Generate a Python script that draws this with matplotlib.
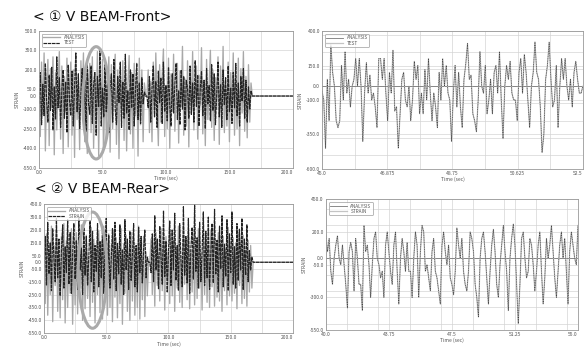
import numpy as np
import matplotlib
matplotlib.use('Agg')
import matplotlib.pyplot as plt
from matplotlib.patches import Ellipse
from matplotlib.ticker import MultipleLocator

plt.rcParams['font.family'] = ['Noto Sans CJK KR', 'DejaVu Sans']

# ---- panel titles / legend labels
titles = ['< \u2460 V BEAM-Front>', '< \u2461 V BEAM-Rear>']
legend_top = ['ANALYSIS', 'TEST']
legend_bot = ['ANALYSIS', 'STRAIN']

# ---- left panels: 1 s samples, two recorded blocks (0-83 s, 86-167 s)
front_ana_1 = [120, -310, 260, -150, 330, -420, 60, 280, -380, 210, -90, 300, -450, 180, -260, 90, 340, -330, 230, -440,
               150, -120, 290, -390, 40, 260, -300, 200, -470, 310, -180, 120, -410, 270, -60, 330, -350, 190, -440, 80,
               250, -280, 300, -400, 140, -200, 340, -460, 220, -110, 280, -380, 170, -320, 60, 300, -430, 240, -250, 110,
               320, -370, 200, -480, 150, -90, 270, -340, 230, -420, 80, 310, -290, 180, -400, 250, -150, 120, -460, 290,
               -220, 200, -350, 100]
front_test_1 = [-60, 180, -220, 90, -150, 250, -40, -200, 160, -110, 220, -260, 70, -180, 300, -90, 140, -240, 50, 200,
                -170, 110, -280, 240, -30, -150, 190, -230, 80, 330, -120, 170, -250, 20, 210, -190, 120, -270, 260, -60,
                -140, 230, -210, 90, 180, -300, 150, -80, 350, -230, 60, -160, 240, -120, 190, -280, 30, 170, -200, 280,
                -100, -220, 150, -50, 260, -240, 110, -170, 320, -130, 40, -260, 200, -90, 170, -230, 60, 250, -180, 100,
                -210, 140, -60, 30]
front_ana_2 = [200, -280, 110, -350, 260, -150, 330, -60, -380, 240, -200, 150, 360, -310, 80, -250, 290, -400, 170, -120,
               320, -270, 40, 250, -360, 190, -80, 380, -300, 130, -230, 270, -390, 210, -140, 340, -260, 60, 230, -330,
               160, -70, 370, -290, 120, -380, 280, -180, 90, 350, -240, 200, -340, 140, -100, 300, -370, 230, -160, 380,
               -280, 70, -230, 260, -350, 180, -90, 330, -300, 110, -250, 290, -380, 210, -130, 340, -270, 150, -320, 240,
               -200, 100]
front_test_2 = [-90, 150, -200, 60, 230, -160, 110, -240, 190, -50, 140, -210, 260, -120, 80, -190, 220, -70, -230, 170,
                -130, 90, 250, -180, 40, -220, 200, -100, 150, -260, 120, 60, -170, 230, -140, 100, -200, 270, -80, 160,
                -230, 50, 190, -150, 120, -250, 210, -60, 80, -190, 240, -110, 170, -220, 30, 260, -160, 90, -240, 200,
                -70, 140, -180, 230, -120, 60, -210, 180, -90, 250, -150, 100, -230, 150, -40, 210, -170, 120, -200, 70,
                -100, 40]

rear_ana_1 = [150, -320, 220, -410, 90, -250, 280, -460, 130, -180, 250, -380, 60, -430, 200, -290, 300, -470, 170, -350,
              110, -240, 260, -480, 80, -330, 230, -400, 150, -200, 290, -450, 120, -360, 210, -280, 50, -420, 270, -310,
              180, -470, 100, -250, 240, -390, 160, -440, 280, -300, 70, -410, 220, -350, 130, -460, 250, -270, 190, -430,
              90, -320, 260, -480, 140, -240, 210, -380, 60, -450, 230, -300, 170, -410, 110, -350, 280, -440, 150, -290,
              200, -420, 80, -260]
rear_strain_1 = [-40, 200, -180, 310, -90, 150, -220, 260, 30, -150, 340, -120, 180, -260, 90, 290, -200, 120, -80, 330,
                 -170, 230, -240, 60, 300, -130, 170, -210, 350, -60, 110, -250, 270, -100, 200, -180, 40, 320, -150, 240,
                 -230, 130, -70, 300, -190, 160, -120, 280, -240, 80, 340, -160, 210, -200, 20, 260, -130, 310, -220, 150,
                 -90, 290, -170, 100, -250, 330, -60, 180, -210, 240, -140, 50, 300, -190, 130, -230, 270, -80, 200, -160,
                 90, 250, -120, 40]
rear_ana_2 = [180, -250, 100, -340, 230, -180, 60, -300, 260, -220, 140, -370, 200, -130, 90, -320, 250, -260, 170, -380,
              120, -200, 280, -310, 50, -350, 210, -170, 150, -290, 240, -360, 90, -230, 190, -330, 130, -280, 260, -200,
              70, -370, 220, -250, 160, -310, 110, -350, 250, -190, 180, -340, 80, -270, 230, -300, 140, -380, 200, -220,
              100, -330, 270, -260, 60, -300, 190, -240, 150, -360, 230, -180, 120, -320, 210, -280, 90, -340, 170, -230,
              130, -200]
rear_strain_2 = [-80, 220, -150, 360, -60, 180, -210, 280, 40, -170, 400, -110, 160, -230, 90, 320, -180, 250, -60, 380,
                 -140, 130, -220, 300, 20, -190, 430, -100, 200, -160, 340, -240, 110, 270, -130, 450, -70, 190, -200, 310,
                 -150, 80, 390, -180, 240, -120, 350, -210, 60, 300, -160, 410, -90, 170, -230, 280, -50, 360, -190, 140,
                 -110, 330, -220, 220, -80, 390, -170, 120, -200, 300, -140, 260, -60, 340, -210, 180, -100, 290, -150, 90,
                 -60, 40]

# ---- right panels: zoomed windows (front 45-52.5 s, rear 40-55 s)
front_zoom = [-35, -100, -450, 50, -250, 300, 100, 0, -250, -300, -250, 150, -100, 250, -50, 50, -150, 0, 50, 200,
              0, 200, 0, -400, -50, 170, -50, 80, -100, -50, -150, -300, 200, 200, 50, 200, -50, -250, 100, -50,
              260, -180, -150, -450, -200, 50, 100, -100, -150, 0, -250, -100, 180, 50, 150, -200, -50, -200, 120, -100,
              200, -50, -250, -50, -150, -300, 100, -100, 200, 0, 150, -50, -100, -400, -50, 150, -150, 100, -150, -300,
              50, 160, 310, 50, 80, -200, -250, -330, -100, 250, 0, -50, 150, -200, -100, 50, -200, 100, 150, -50,
              250, -100, -380, 0, 150, 50, 180, -50, -100, -100, -250, 100, 200, -50, 230, 100, -100, -300, 0, 100,
              320, 100, 50, -150, -480, -350, 50, 150, 320, 50, -150, -100, 150, -300, 0, 200, 50, 200, 0, -100,
              50, -150, 100, 180, 50, -50, -50, 0]
rear_zoom = [180, 50, 150, -100, -200, 0, 100, 170, 0, -50, 100, -50, -200, -380, 50, 120, 50, -250, 150, 0,
             -200, -200, -400, 250, 50, 100, -50, -300, -50, 150, 200, 0, -50, -150, -100, -300, 100, 200, 50, -100,
             -200, 100, 200, -100, -350, 0, 150, 50, -100, 120, -100, -100, -300, 0, 200, 100, -300, 50, 250, 200,
             -100, -50, -150, -250, 50, 150, -100, -150, -250, -350, 100, 200, 50, -50, 100, -150, -200, -280, -100, 230,
             100, 0, 150, -100, -200, -250, -100, 200, 150, 50, -200, -300, -450, 0, 150, 200, 50, -150, -350, -100,
             100, 220, 50, -200, -300, -50, 100, 250, 50, -100, -400, 0, 150, 260, 100, -200, -500, -200, 150, 200,
             0, -150, -100, 150, 100, -50, -250, -100, 100, 200, -100, -350, -150, 150, 0, 100, 250, 50, -150, -300,
             -100, 100, 200, 0, 150, -100, -350, 50, 200, 100, 0, -50, 250]

# ---- axis ticks
tl_yticks = [-550, -400, -250, -100, 0, 50, 200, 350, 500]
tr_yticks = [-600, -350, -100, 0, 150, 400]
tr_xticks = [45.0, 46.875, 48.75, 50.625, 52.5]
tr_xlabels = ['45.0', '46.875', '48.75', '50.625', '52.5']
bl_yticks = [-550, -450, -350, -250, -150, -50, 0, 50, 150, 250, 350, 450]
br_yticks = [-550, -300, -50, 0, 200, 450]
br_xticks = [40.0, 43.75, 47.5, 51.25, 55.0]
br_xlabels = ['40.0', '43.75', '47.5', '51.25', '55.0']
left_xticks = [0, 50, 100, 150, 200]

GRID = '#d4d4d4'
TXT = '#555555'


def _blocks(p1, p2):
    t = np.concatenate([np.arange(len(p1)), [84, 85], 86 + np.arange(len(p2)), [168, 200]])
    y = np.concatenate([p1, [0, 0], p2, [0, 0]])
    return t, y


def _style(ax, yticks, ylim, xticks, xlabels, xlim, xminor, yminor=None):
    ax.set_xlim(xlim)
    ax.set_ylim(ylim)
    ax.set_yticks(yticks)
    ax.set_yticklabels(['%.1f' % v for v in yticks])
    ax.set_xticks(xticks)
    ax.set_xticklabels(xlabels)
    ax.xaxis.set_minor_locator(MultipleLocator(xminor))
    if yminor:
        ax.yaxis.set_minor_locator(MultipleLocator(yminor))
    ax.grid(True, which='both', color=GRID, lw=0.5)
    ax.tick_params(which='both', length=0, labelsize=3.6, colors=TXT, pad=1.5)
    for s in ax.spines.values():
        s.set_color('#999999')
        s.set_linewidth(0.6)
    ax.set_xlabel('Time (sec)', fontsize=3.6, color=TXT, labelpad=0.5)
    ax.set_ylabel('STRAIN', fontsize=3.6, color=TXT, labelpad=2)
    ax.set_axisbelow(True)
    # last tick label sits on the right border
    ax.get_xticklabels()[-1].set_ha('right')


def _legend(ax, labels):
    leg = ax.legend(labels, loc='upper left', fontsize=3.4, handlelength=3.5, frameon=True,
                    fancybox=True, borderpad=0.3, labelspacing=0.1, borderaxespad=0.6)
    leg.get_frame().set_edgecolor('#999999')
    leg.get_frame().set_linewidth(0.6)
    for t in leg.get_texts():
        t.set_color(TXT)


fig = plt.figure(figsize=(5.85, 3.49), dpi=100)
fig.patch.set_facecolor('white')

ax1 = fig.add_axes([0.0667, 0.519, 0.434, 0.393])
ax2 = fig.add_axes([0.5504, 0.516, 0.446, 0.395])
ax3 = fig.add_axes([0.0752, 0.045, 0.4256, 0.370])
ax4 = fig.add_axes([0.557, 0.054, 0.431, 0.375])

# top-left
t, y = _blocks(front_ana_1, front_ana_2)
ax1.plot(t, y, color='#a8a8a8', lw=0.95)
t, y = _blocks(front_test_1, front_test_2)
ax1.plot(t, y, color='#222222', lw=0.85, ls=(0, (3, 0.6)))
_style(ax1, tl_yticks, (-550, 500), left_xticks, ['%.1f' % v for v in left_xticks], (0, 200), 25)
_legend(ax1, legend_top)
ax1.add_patch(Ellipse((45, -52), 21, 860, fill=False, ec='#aaaaaa', lw=2.2, zorder=5))

# bottom-left
t, y = _blocks(rear_ana_1, rear_ana_2)
ax3.plot(t, y, color='#a8a8a8', lw=0.95)
t, y = _blocks(rear_strain_1, rear_strain_2)
ax3.plot(t, y, color='#222222', lw=0.85, ls=(0, (3, 0.6)))
_style(ax3, bl_yticks, (-550, 450), left_xticks, ['%.1f' % v for v in left_xticks], (0, 200), 25)
_legend(ax3, legend_bot)
ax3.add_patch(Ellipse((39, -61), 23, 900, fill=False, ec='#aaaaaa', lw=2.2, zorder=5))

# top-right
tz = np.linspace(45, 52.5, len(front_zoom))
ax2.axhline(0, color='#777777', lw=0.6)
ax2.plot(tz, front_zoom, color='#c4c4c4', lw=0.9)
ax2.plot(tz, front_zoom, color='#444444', lw=0.5, ls=(0, (1.5, 1)))
_style(ax2, tr_yticks, (-600, 400), tr_xticks, tr_xlabels, (45, 52.5), 0.9375, 125)
_legend(ax2, legend_top)

# bottom-right
tz = np.linspace(40, 55, len(rear_zoom))
ax4.axhline(0, color='#777777', lw=0.6)
ax4.plot(tz, rear_zoom, color='#c4c4c4', lw=0.9)
ax4.plot(tz, rear_zoom, color='#444444', lw=0.5, ls=(0, (1.5, 1)))
_style(ax4, br_yticks, (-550, 450), br_xticks, br_xlabels, (40, 55), 1.875, 125)
_legend(ax4, legend_bot)

fig.text(0.057, 0.95, titles[0], fontsize=10, color='#111111', va='center', ha='left',
         family=['DejaVu Sans', 'Noto Sans CJK KR'])
fig.text(0.06, 0.458, titles[1], fontsize=10, color='#111111', va='center', ha='left',
         family=['DejaVu Sans', 'Noto Sans CJK KR'])

fig.savefig('out.png', dpi=100)
